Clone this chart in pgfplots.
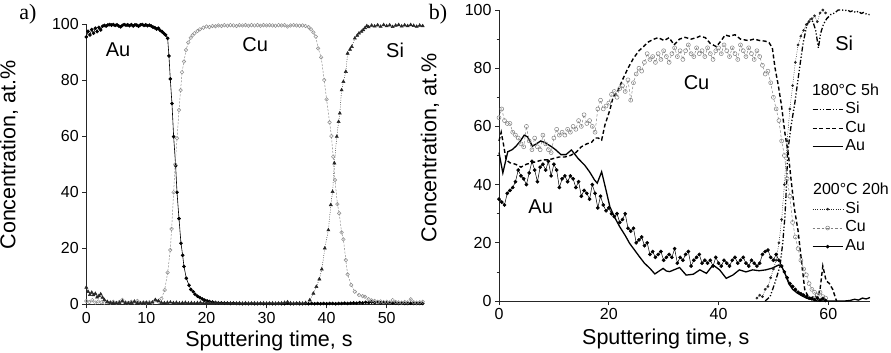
\documentclass[border=0pt]{standalone}
\usepackage{fontspec}
\setmainfont{Liberation Sans}
\newfontfamily\seriffont{Liberation Serif}
\usepackage{pgfplots}
\pgfplotsset{compat=1.18}
\pgfplotsset{
  common/.style={
    scale only axis, anchor=south west, clip=false,
    axis lines*=left, tick align=outside,
    axis line style={line width=0.7pt, black!85},
    every tick/.style={line width=0.7pt, black!85},
    major tick length=4pt, minor tick length=2.5pt,
    ymin=0, ymax=100, ytick={0,20,...,100},
    /pgf/number format/assume math mode=true,
    tick label style={font=\fontsize{16}{19}\selectfont},
    label style={font=\fontsize{21.5}{25}\selectfont},
    xlabel={Sputtering time, s}, ylabel={Concentration, at.\%},
  }
}
\begin{document}
\begin{tikzpicture}[x=1pt,y=1pt]
\useasboundingbox (0,0) rectangle (891,353);
\node[font=\seriffont\fontsize{22}{26}\selectfont] at (28,338.5) {a)};
\node[font=\seriffont\fontsize{22}{26}\selectfont] at (438,338.5) {b)};
% ---------------- panel a
\begin{axis}[common,
  at={(86.3pt,48.7pt)}, width=336.4pt, height=280pt,
  xmin=0, xmax=56, xtick={0,10,...,50},
  xlabel style={at={(axis description cs:0.543,-0.151)}, anchor=base},
  ylabel style={at={(axis description cs:-0.23,0.533)}, anchor=center},
]
% Au
\addplot[black, line width=0.6pt, mark=*, mark size=1.5pt] coordinates {
(0,95.5)(0.3,97.5)(0.6,96.2)(0.9,98.1)(1.2,96.8)(1.5,98.6)(1.8,97.4)(2.1,98.9)(2.4,98.0)(2.7,99.3)
(3.0,99.6)(3.3,99.4)(3.6,99.8)(3.9,99.9)(4.2,99.7)(4.5,99.9)(4.8,99.6)(5.1,99.8)(5.4,99.4)(5.7,99.1)
(6.0,99.6)(6.3,99.9)(6.6,99.7)(6.9,99.8)(7.2,99.5)(7.5,99.9)(7.8,99.4)(8.1,99.8)(8.4,99.7)(8.7,99.3)
(9.0,99.8)(9.3,99.9)(9.6,99.6)(9.9,99.8)(10.2,99.5)(10.5,99.7)(10.8,99.4)(11.1,99.0)(11.4,98.8)(11.7,98.3)
(12.0,98.6)(12.3,97.8)(12.6,97.4)(12.9,96.8)(13.2,96.2)(13.54,95.0)(13.76,88.7)(13.98,80.5)(14.26,71.7)
(14.54,59.9)(14.87,49.5)(15.1,40)(15.43,30.6)(15.76,21.8)(16.04,17.5)(16.26,13.5)(16.65,9.3)(17.1,6.8)
(17.4,5.3)(17.8,4.5)(18.1,3.6)(18.5,2.9)(18.9,2.4)(19.3,1.9)(19.7,1.5)(20.1,1.2)(20.5,1.0)(21.0,0.8)
(21.5,0.6)(22,0.5)(22.5,0.5)(23,0.4)(23.5,0.4)(24,0.3)(24.5,0.4)(25,0.3)(25.5,0.3)(26,0.2)(26.5,0.3)
(27,0.2)(27.5,0.3)(28,0.2)(28.5,0.2)(29,0.3)(29.5,0.2)(30,0.2)(30.5,0.3)(31,0.2)(31.5,0.2)(32,0.3)
(32.5,0.2)(33,0.2)(33.5,0.4)(34,0.2)(34.5,0.2)(35,0.3)(35.5,0.2)(36,0.2)(36.5,0.3)(37,0.2)(37.5,0.3)
(38,0.2)(38.5,0.3)(39,0.2)(39.5,0.3)(40,0.2)(40.5,0.3)(41,0.3)(41.5,0.2)(42,0.3)(42.5,0.3)(43,0.4)
(43.5,0.3)(44,0.4)(44.5,0.5)(45,0.4)(45.5,0.6)(46,0.5)(46.5,0.7)(47,0.6)(47.5,0.8)(48,0.6)(48.5,0.7)
(49,0.5)(49.5,0.6)(50,0.5)(50.5,0.4)(51,0.5)(51.5,0.4)(52,0.3)(52.5,0.4)(53,0.3)(53.5,0.3)(54,0.4)
(54.5,0.3)(55,0.3)(55.5,0.3)(56,0.3)};
% Cu
\addplot[black!45, line width=0.5pt, dash pattern=on 2pt off 1.5pt, mark=o, mark size=1.8pt, mark options={solid}] coordinates {
(0,1.2)(0.5,0.8)(1,1.5)(1.5,0.6)(2,1.0)(2.5,0.7)(3,0.5)(3.5,0.8)(4,0.6)(4.5,0.9)(5,0.5)(5.5,0.8)
(6,1.6)(6.5,0.7)(7,0.5)(7.5,0.9)(8,0.6)(8.5,1.2)(9,0.5)(9.5,0.7)(10,0.6)(10.5,0.8)(11,0.6)(11.5,1.5)
(12,1.0)(12.5,2.0)(13.04,5.1)(13.54,11.3)(13.98,19.4)(14.2,26.9)(14.54,40)(14.8,50)(15.1,59.3)
(15.43,69.4)(15.7,76.5)(15.93,82.9)(16.26,86.7)(16.6,90.8)(16.98,93.5)(17.4,95.2)(17.7,96.1)(18,96.8)
(18.5,97.6)(18.9,98.2)(19.5,98.8)(20,99.2)(20.5,99.0)(21,99.4)(21.5,99.3)(22,99.6)(22.5,99.4)(23,99.7)
(23.5,99.5)(24,99.7)(24.5,99.6)(25,99.4)(25.5,99.7)(26,99.6)(26.5,99.7)(27,99.5)(27.5,99.7)(28,99.6)
(28.5,99.7)(29,99.5)(29.5,99.7)(30,99.6)(30.5,99.7)(31,99.6)(31.5,99.5)(32,99.7)(32.5,99.6)(33,99.7)
(33.5,99.2)(34,99.6)(34.5,99.7)(35,99.6)(35.5,99.5)(36,99.6)(36.5,99.4)(37,99.0)(37.4,98.2)(37.8,97.1)
(38.2,95.6)(38.6,91.4)(39.1,88.2)(39.6,80.1)(40,73.2)(40.5,65)(40.8,60.1)(41.1,52.7)(41.4,44.4)
(41.8,35.8)(42.1,32.5)(42.5,25.7)(42.8,23.2)(43.2,15.8)(43.5,10.7)(44.1,6.9)(44.7,4.5)(45.4,3.3)
(46,2.9)(46.4,2.7)(47,1.8)(47.5,1.4)(48,1.2)(48.5,0.9)(49,1.0)(49.5,0.8)(50,0.9)(50.5,0.7)(51,1.5)
(51.5,0.8)(52,0.7)(52.5,0.6)(53,0.8)(53.5,0.7)(54,1.8)(54.5,0.7)(55,0.6)(55.5,0.7)(56,0.9)};
% Si
\addplot[black!85, line width=0.5pt, dash pattern=on 0.8pt off 1.5pt, mark=triangle*, mark size=1.8pt, mark options={solid}] coordinates {
(0,6.0)(0.3,4.5)(0.6,3.4)(0.9,4.2)(1.2,3.3)(1.5,3.8)(1.8,2.5)(2.1,3.0)(2.4,3.6)(2.7,2.4)(3.0,1.6)
(3.5,0.9)(4,0.6)(4.5,0.5)(5,0.4)(5.5,0.6)(6,1.1)(6.5,0.5)(7,0.4)(7.5,0.6)(8,1.0)(8.5,0.5)(9,0.4)
(9.5,0.5)(10,0.6)(10.5,0.4)(11,0.7)(11.5,1.6)(12,1.2)(12.5,0.6)(13,0.5)(13.5,0.6)(14,0.7)(14.5,0.5)
(15,0.6)(15.5,0.4)(16,0.5)(16.5,0.6)(17,0.4)(17.5,0.5)(18,0.4)(18.5,0.5)(19,0.6)(19.5,0.4)(20,0.5)
(20.5,0.4)(21,0.3)(21.5,0.5)(22,0.4)(22.5,0.3)(23,0.4)(23.5,0.3)(24,0.4)(24.5,0.3)(25,0.3)(25.5,0.4)
(26,0.3)(26.5,0.4)(27,0.3)(27.5,0.3)(28,0.4)(28.5,0.3)(29,0.3)(29.5,0.4)(30,0.3)(30.5,0.3)(31,0.4)
(31.5,0.3)(32,0.3)(32.5,0.4)(33,0.6)(33.5,0.8)(34,0.4)(34.5,0.3)(35,0.3)(35.5,0.4)(36,0.3)(36.5,0.5)
(37.2,1.5)(37.8,3.9)(38.3,6.3)(38.8,9)(39.2,12.5)(39.7,20)(40.3,26.5)(40.7,35.5)(41,40.2)(41.3,50.4)
(41.7,59.9)(42,65.2)(42.2,68.2)(42.5,76.5)(42.8,79.5)(43.2,83.1)(43.5,89.6)(43.9,91)(44.2,92)(44.7,95)
(45.1,96)(45.4,96.8)(45.8,97.4)(46.1,98)(46.4,98.7)(46.7,99.4)(47,99.0)(47.5,99.6)(48,99.3)(48.5,99.7)
(49,99.2)(49.5,99.8)(50,99.4)(50.5,99.7)(51,99.1)(51.5,99.6)(52,99.8)(52.5,99.3)(53,99.7)(53.5,99.4)
(54,99.8)(54.5,99.5)(55,99.2)(55.5,99.6)(56,99.4)};
\node[font=\fontsize{20}{24}\selectfont] at (axis cs:5.3,90.8) {Au};
\node[font=\fontsize{20}{24}\selectfont] at (axis cs:28.1,92.6) {Cu};
\node[font=\fontsize{20}{24}\selectfont] at (axis cs:51.4,90.8) {Si};
\end{axis}
% ---------------- panel b
\begin{axis}[common,
  at={(499pt,52pt)}, width=371pt, height=291pt,
  xmin=0, xmax=67.6, xtick={0,20,40,60},
  minor ytick={10,30,50,70,90},
  xlabel style={at={(axis description cs:0.4497,-0.151)}, anchor=base},
  ylabel style={at={(axis description cs:-0.186,0.526)}, anchor=center},
  legend cell align=left,
  legend style={draw=none, fill=none, inner sep=0pt, anchor=north west,
    at={(axis description cs:0.843,0.692)},
    font=\fontsize{16}{19}\selectfont,
    nodes={inner sep=2pt, text depth=3.5pt}},
  legend image code/.code={\draw[mark repeat=2,mark phase=2,#1] plot coordinates {(0pt,0pt) (15pt,0pt) (30pt,0pt)};},
]
% Si 180
\addplot[black, line width=1.3pt, dash pattern=on 5pt off 2pt on 1.2pt off 2pt on 1.2pt off 2pt] coordinates {
(48.5,0)(49.4,1.5)(50.3,6.4)(51.2,12)(51.7,20)(52.1,29)(52.4,40.5)(52.6,51)(53.2,60)(53.9,68)(54.4,75)
(54.8,80.5)(55.4,88.5)(56,94)(56.6,97)(57.2,96)(57.7,93)(58.2,87)(58.6,92)(59.1,95)(59.7,97)(60.5,98.5)
(61.2,99)(61.8,100)(62.5,100)(63,99.8)(63.5,100)(64,99.4)(64.5,99.8)(65,99.1)(65.5,99.6)(66,98.8)
(66.5,99.2)(67,98.5)(67.6,98.4)};
\addlegendentry{Si}
% Cu 180
\addplot[black, line width=1.4pt, dash pattern=on 4pt off 2.5pt] coordinates {
(0,55)(0.4,58)(0.8,54)(1.3,48.5)(2,47.5)(3,47)(4,46)(5,47)(6,47.5)(7,48)(8,48.5)(9,48.5)(10,49)
(11,49.5)(12,49.5)(13,50)(14,51)(15,53)(16,54)(16.9,54.6)(17.5,56)(18.1,56)(18.7,55.3)(19.3,60.5)
(20.2,65.6)(20.8,70.2)(21.5,71.5)(22.5,76)(23.5,80)(24.5,83.4)(25.5,86)(26.3,87.4)(27.2,89)(28.1,89.9)
(29,90.5)(30.1,89.5)(31,90.5)(31.9,88)(32.9,90)(33.9,90.6)(35,90)(36,90.5)(36.6,91)(37.6,90.5)
(38.5,88.5)(39.6,87.4)(40.5,89.5)(41.2,91.4)(42,91)(43,91.5)(44,90)(45.4,89.5)(46.5,90)(47.5,89.5)
(48.5,89.3)(49.2,88.8)(49.8,87)(50.3,80)(50.9,74)(51.5,66.8)(52.1,57.6)(52.7,50.8)(53.2,42)(53.8,32)
(54.5,24)(55.1,14)(55.7,4)(56.2,2)(57,1)(57.5,2)(58,1)(58.5,4)(59,12)(59.6,7)(60.2,6)(60.8,4)(61.5,0)};
\addlegendentry{Cu}
% Au 180
\addplot[black, line width=1.3pt] coordinates {
(0,51)(0.7,44)(1.6,51.3)(2.4,52)(3.1,53.2)(3.9,55)(4.6,57)(5.2,56.4)(6.1,53.2)(6.8,54)(7.6,55)(8.3,54.5)
(8.9,53.8)(9.6,53)(10.3,52)(11.3,50.3)(12.2,50.3)(13.2,51.9)(14.4,49)(15.6,46.7)(16.5,44.4)(17.4,41.6)
(17.9,40.5)(18.7,44.4)(19.5,38.1)(20.2,32.4)(21,29)(22,25.5)(23,22.5)(23.8,19.8)(24.7,17.5)(25.6,15.2)
(26.5,13)(27.5,11.2)(28.4,9.3)(29.1,10.2)(29.9,11.2)(30.5,10.3)(31.1,10.1)(32,10.8)(32.9,11.5)(34.1,8.9)
(35.4,9.2)(36.6,10.7)(37.8,9.5)(39,12.4)(40.2,10.7)(41.4,7.8)(42.6,8.9)(43.8,10.7)(45,10)(46.2,10.7)
(47.4,10.4)(48.6,10.7)(49.8,11.3)(51,12.4)(51.6,11.5)(52.2,9)(52.8,6)(53.5,4)(54.3,2.8)(55,2)(56,1)
(57,0.5)(58,0)(63,0)(64,0.2)(64.8,0.6)(65.5,0.3)(66.2,1)(66.9,0.7)(67.6,1.2)};
\addlegendentry{Au}
\addlegendimage{empty legend}
\addlegendentry{\rule{0pt}{36pt}}
% Si 200
\addplot[black!85, line width=0.5pt, dash pattern=on 0.8pt off 1.5pt, mark=*, mark size=1.1pt, mark options={solid}] coordinates {
(47,1)(47.5,2)(48,1.5)(48.5,4)(49,5)(49.5,8)(50,11)(50.5,14)(51,20)(51.5,28)(52,40)(52.5,55)(53,66)
(53.5,74)(54,82)(54.5,88)(55,91)(55.5,93)(56,95)(56.5,96)(57,97)(57.5,98)(58,96)(58.5,99)(59,100)(59.5,99)};
\addlegendentry{Si}
% Cu 200
\addplot[black!50, line width=0.5pt, dash pattern=on 2.5pt off 2pt, mark=o, mark size=2pt, mark options={solid}] coordinates {
(0,63)(0.5,66)(1,62)(1.5,61)(2,61)(2.5,58)(3,57)(3.5,56)(4,54)(4.5,53)(5,60)(5.5,55)(6,52)(6.5,56)
(7,53)(7.5,52)(8,57)(8.5,54)(9,52)(9.5,51)(10,56)(10.5,59)(11,57)(11.5,58)(12,57)(12.5,59)(13,58)
(13.5,60)(14,59)(14.5,62)(15,60)(15.5,64)(16,61)(16.5,62)(17,60)(17.5,58)(18,66)(18.5,69)(19,66)
(19.5,67)(20,68)(20.5,71)(21,72)(21.5,70)(22,73)(22.5,74)(23,72)(23.5,76)(24,69)(24.5,75)(25,78)
(25.5,80)(26,79)(26.5,82)(27,85)(27.5,83)(28,84)(28.5,82)(29,85)(29.5,83)(30,86)(30.5,84)(31,82)
(31.5,85)(32,87)(32.5,84)(33,86)(33.5,83)(34,86)(34.5,88)(35,85)(35.5,84)(36,87)(36.5,85)(37,86)
(37.5,84)(38,87)(38.5,85)(39,83)(39.5,86)(40,87)(40.5,85)(41,88)(41.5,86)(42,84)(42.5,87)(43,85)
(43.5,83)(44,88)(44.5,86)(45,84)(45.5,87)(46,85)(46.5,83)(47,86)(47.5,84)(48,81)(48.5,78)(49,79)
(49.5,75)(50,70)(50.5,66)(51,62)(51.5,55)(52,50)(52.5,42)(53,36)(53.5,27)(54,22)(54.5,18)(55,14)
(55.5,11)(56,9)(56.5,6)(57,4)(57.5,3)(58,2)(58.5,3)(59,1.5)(59.5,1)};
\addlegendentry{Cu}
% Au 200
\addplot[black, line width=0.5pt, mark=*, mark size=1.6pt] coordinates {
(0,35)(0.5,34)(1,33)(1.5,37)(2,38)(2.5,39)(3,41)(3.5,45)(4,43)(4.5,42)(5,40)(5.5,44)(6,48)(6.5,45)
(7,41)(7.5,46)(8,47)(8.5,45)(9,48)(9.5,43)(10,47)(10.5,45)(11,39)(11.5,42)(12,43)(12.5,41)(13,43)
(13.5,42)(14,39)(14.5,41)(15,36)(15.5,38)(16,37)(16.5,35)(17,40)(17.5,37)(18,32)(18.5,36)(19,33)
(19.5,31)(20,32)(20.5,30)(21,29)(21.5,30)(22,27)(22.5,28)(23,30)(23.5,25)(24,24)(24.5,25)(25,20)
(25.5,21)(26,22)(26.5,19)(27,20)(27.5,16)(28,17)(28.5,15)(29,16)(29.5,17)(30,14)(30.5,15)(31,16)
(31.5,15)(32,18)(32.5,13)(33,15)(33.5,14)(34,16)(34.5,17)(35,12)(35.5,14)(36,15)(36.5,16)(37,13)
(37.5,14)(38,13)(38.5,14)(39,12)(39.5,15)(40,13)(40.5,12)(41,14)(41.5,13)(42,12)(42.5,14)(43,15)
(43.5,13)(44,14)(44.5,15)(45,13)(45.5,12)(46,14)(46.5,13)(47,12)(47.5,13)(48,16)(48.5,17)(49,17.5)
(49.5,15)(50,14)(50.5,16)(51,14)(51.5,12)(52,10)(52.5,8)(53,6)(53.5,5)(54,4)(54.5,3)(55,2.5)(55.5,2)
(56,1.5)(56.5,1)(57,0.8)(57.5,0.5)(58,1)(58.5,0.3)(59,0.8)(59.5,0.2)};
\addlegendentry{Au}
\node[font=\fontsize{20}{24}\selectfont] at (axis cs:36,75) {Cu};
\node[font=\fontsize{20}{24}\selectfont] at (axis cs:7.6,32.4) {Au};
\node[font=\fontsize{20}{24}\selectfont] at (axis cs:62.9,88.5) {Si};
\node[font=\fontsize{16}{19}\selectfont, anchor=west, inner sep=0pt] at (axis cs:57.0,72.5) {180°C 5h};
\node[font=\fontsize{16}{19}\selectfont, anchor=west, inner sep=0pt] at (axis cs:57.2,38.5) {200°C 20h};
\end{axis}
\end{tikzpicture}
\end{document}
